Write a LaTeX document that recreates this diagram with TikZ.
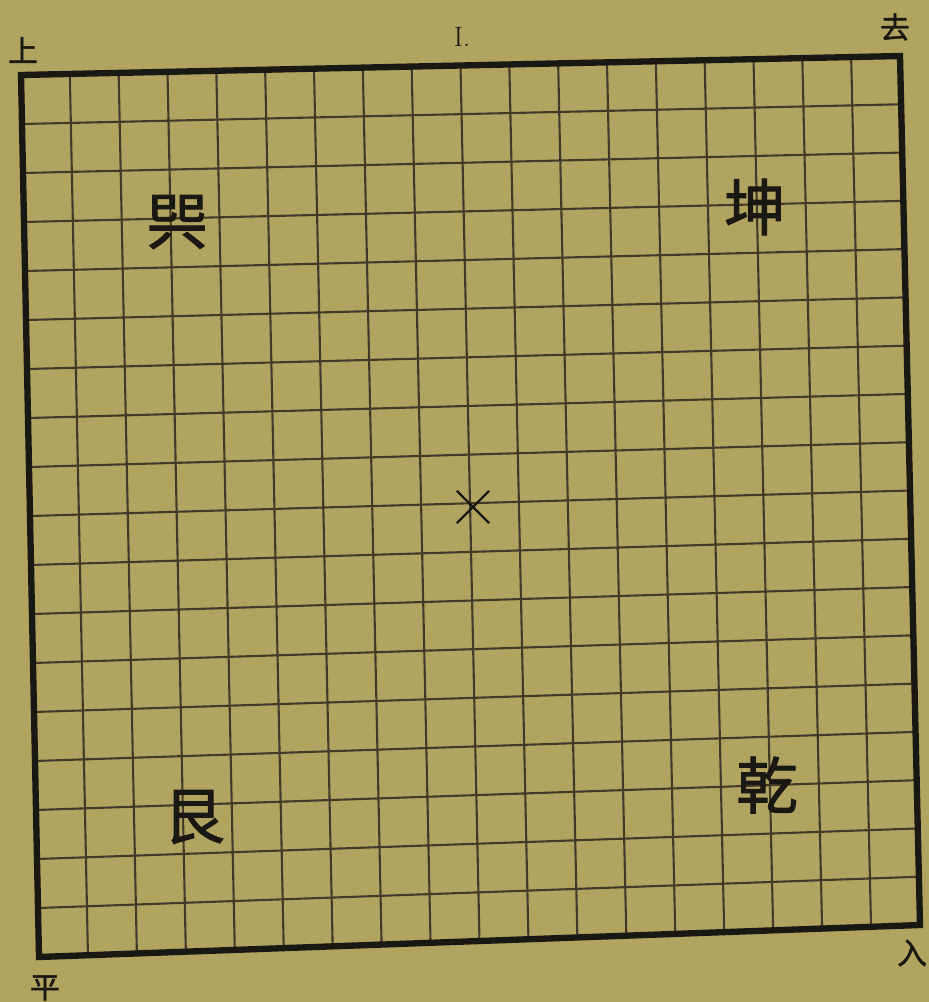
\documentclass[tikz,border=0pt]{standalone}
\usepackage{fontspec}
\newfontfamily\cjk[FakeBold=1.5]{Noto Sans CJK SC}
\usepackage{xcolor}
\usetikzlibrary{calc,shapes.misc}

\definecolor{paper}{RGB}{176,164,96}
\definecolor{rule}{RGB}{66,58,40}
\definecolor{ink}{RGB}{26,24,18}

\begin{document}
\begin{tikzpicture}[x=0.02cm, y=-0.02cm,
    gua/.style={font=\cjk\fontsize{35}{35}\selectfont, text=ink, inner sep=0pt},
    tone/.style={font=\cjk\fontsize{17}{17}\selectfont, text=ink, inner sep=0pt},
    gridline/.style={draw=rule, line width=1.2pt},
    frame/.style={draw=ink, line width=3.6pt, line join=miter}
  ]
    \fill[paper] (0,0) rectangle (929,1002);
    \useasboundingbox (0,0) rectangle (929,1002);
    % corners of the board (photo is slightly skewed)
    \coordinate (tl) at (21,75);
    \coordinate (tr) at (900,56);
    \coordinate (bl) at (39,957);
    \coordinate (br) at (920,925);
    \foreach \i in {1,...,17} {
      \draw[gridline] ($(tl)!\i/18!(tr)$) -- ($(bl)!\i/18!(br)$);
      \draw[gridline] ($(tl)!\i/18!(bl)$) -- ($(tr)!\i/18!(br)$);
    }
    \draw[frame] (tl) -- (tr) -- (br) -- (bl) -- cycle;
    % tones at the corners
    \node[tone] (shang) at (23,50) {上};
    \node[tone] (qu) at (895,27) {去};
    \node[tone] (ping) at (45,988) {平};
    \node[tone] (ru) at (912,953) {入};
    \node[font=\fontsize{16}{16}\selectfont, text=ink] (num) at (462,37) {I.};
    % trigrams
    \node[gua] (xun) at (177,222) {巺};
    \node[gua] (kun) at (755,207) {坤};
    \node[gua] (gen) at (194,817) {艮};
    \node[gua] (qian) at (767,785) {乾};
    \node[draw=ink, cross out, line width=1.3pt, minimum size=0.6cm, inner sep=0pt] (mid) at (473,507) {};
  \end{tikzpicture}
\end{document}
